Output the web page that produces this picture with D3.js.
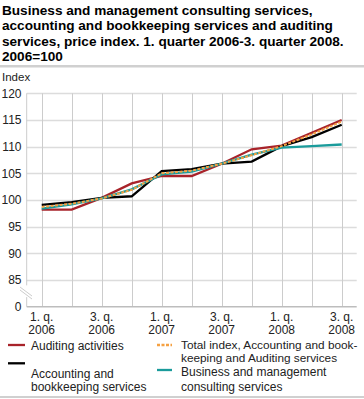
<!DOCTYPE html>
<html><head><meta charset="utf-8">
<script src="https://cdn.jsdelivr.net/npm/d3@7"></script>
<style>
body{margin:0;background:#fff;}
svg{display:block;font-family:"Liberation Sans",Arial,sans-serif;}
</style></head>
<body><svg id="c" width="364" height="399"></svg>
<script>
const quarters = ["1. q. 2006","2. q. 2006","3. q. 2006","4. q. 2006","1. q. 2007","2. q. 2007","3. q. 2007","4. q. 2007","1. q. 2008","2. q. 2008","3. q. 2008"];
const auditing = [98.2,98.2,100.4,103.1,104.5,104.5,106.8,109.5,110.2,112.6,115.0];
const accounting = [99.1,99.6,100.4,100.7,105.4,105.8,106.8,107.2,110.1,111.8,114.1];
const business = [98.4,99.2,100.3,102.0,104.8,105.3,106.8,108.5,109.8,110.1,110.4];
const total = [98.7,99.3,100.3,101.9,105.0,105.5,106.8,108.4,110.1,112.3,114.7];
const yTicks = [85,90,95,100,105,110,115,120];
const xTickLabels = [["1. q.","2006"],null,["3. q.","2006"],null,["1. q.","2007"],null,["3. q.","2007"],null,["1. q.","2008"],null,["3. q.","2008"]];

const svg = d3.select("#c");
const L = 26.7, R = 356.7, T = 93.3, B = 306.7;
const x = d3.scalePoint().domain(quarters).range([L, R]).padding(0.5);
const y = d3.scaleLinear().domain([80,120]).range([B, T]);

// title
const title = ["Business and management consulting services,","accounting and bookkeeping services and auditing","services, price index. 1. quarter 2006-3. quarter 2008.","2006=100"];
svg.append("g").selectAll("text").data(title).join("text")
  .attr("x",2).attr("y",(d,i)=>14.5+i*15.5)
  .attr("font-size","13.6px").attr("font-weight","bold").attr("fill","#000").text(d=>d);
svg.append("rect").attr("x",0).attr("y",65).attr("width",364).attr("height",2.5).attr("fill","#d0d0d0");
svg.append("text").attr("x",2).attr("y",80.5).attr("font-size","11.5px").attr("fill","#222").text("Index");

// grid
const g = svg.append("g");
g.selectAll("line.h").data(yTicks).join("line").attr("class","h")
  .attr("x1",L).attr("x2",R).attr("y1",d=>Math.round(y(d))+0.5).attr("y2",d=>Math.round(y(d))+0.5)
  .attr("stroke","#dcdcdc").attr("stroke-width",1.5);
g.selectAll("line.v").data(quarters).join("line").attr("class","v")
  .attr("x1",d=>Math.round(x(d))+0.5).attr("x2",d=>Math.round(x(d))+0.5).attr("y1",T).attr("y2",B)
  .attr("stroke","#cccccc").attr("stroke-width",1);
// left axis with break
g.append("line").attr("x1",L).attr("x2",L).attr("y1",T).attr("y2",y(84)).attr("stroke","#cccccc");
g.append("line").attr("x1",L).attr("x2",L).attr("y1",y(81.8)).attr("y2",B).attr("stroke","#cccccc");
g.append("line").attr("x1",20).attr("x2",32).attr("y1",287).attr("y2",296).attr("stroke","#cccccc");
g.append("line").attr("x1",20).attr("x2",32).attr("y1",290).attr("y2",299).attr("stroke","#cccccc");
g.append("line").attr("x1",L).attr("x2",R).attr("y1",B).attr("y2",B).attr("stroke","#bdbdbd").attr("stroke-width",1.5);

// y labels
svg.append("g").selectAll("text").data(yTicks).join("text")
  .attr("x",21.5).attr("y",d=>y(d)+4.3).attr("text-anchor","end")
  .attr("font-size","12px").attr("fill","#222").text(d=>d);
svg.append("text").attr("x",21.5).attr("y",B+4.3).attr("text-anchor","end").attr("font-size","12px").attr("fill","#222").text("0");

// x labels
const xl = svg.append("g");
quarters.forEach((q,i)=>{
  const lab = xTickLabels[i]; if(!lab) return;
  xl.append("text").attr("x",x(q)).attr("y",321).attr("text-anchor","middle").attr("font-size","12px").attr("fill","#222").text(lab[0]);
  xl.append("text").attr("x",x(q)).attr("y",333.5).attr("text-anchor","middle").attr("font-size","12px").attr("fill","#222").text(lab[1]);
});

// lines
const line = d3.line().x((d,i)=>x(quarters[i])).y(d=>y(d));
const series = [
  {v:auditing,c:"#a8232a",dash:null},
  {v:accounting,c:"#000000",dash:null},
  {v:business,c:"#1a9b9b",dash:null},
  {v:total,c:"#f5a142",dash:"3,1.5"}
];
svg.append("g").selectAll("path").data(series).join("path")
  .attr("d",d=>line(d.v)).attr("fill","none").attr("stroke",d=>d.c)
  .attr("stroke-width",d=>d.dash?2:2.3).attr("stroke-dasharray",d=>d.dash)
  .attr("stroke-linejoin","miter");

// legend
const lg = svg.append("g").attr("font-size","12px").attr("fill","#222");
function sw(x1,x2,yy,c,dash){lg.append("line").attr("x1",x1).attr("x2",x2).attr("y1",yy).attr("y2",yy).attr("stroke",c).attr("stroke-width",2.3).attr("stroke-dasharray",dash);}
sw(8,25,345,"#a8232a",null);
lg.append("text").attr("x",31).attr("y",349.5).text("Auditing activities");
sw(8,25,363.3,"#000000",null);
lg.append("text").attr("x",31).attr("y",377.5).text("Accounting and");
lg.append("text").attr("x",31).attr("y",391).text("bookkeeping services");
sw(157,172,345,"#f5a142","3,1.5");
lg.append("text").attr("x",181).attr("y",348.5).attr("font-size","11.8px").text("Total index, Accounting and book-");
lg.append("text").attr("x",181).attr("y",362.3).attr("font-size","11.8px").text("keeping and Auditing services");
sw(157,172,370,"#1a9b9b",null);
lg.append("text").attr("x",181).attr("y",376.2).text("Business and management");
lg.append("text").attr("x",181).attr("y",391).text("consulting services");
svg.append("rect").attr("x",0).attr("y",396).attr("width",364).attr("height",2).attr("fill","#d0d0d0");
</script></body></html>
